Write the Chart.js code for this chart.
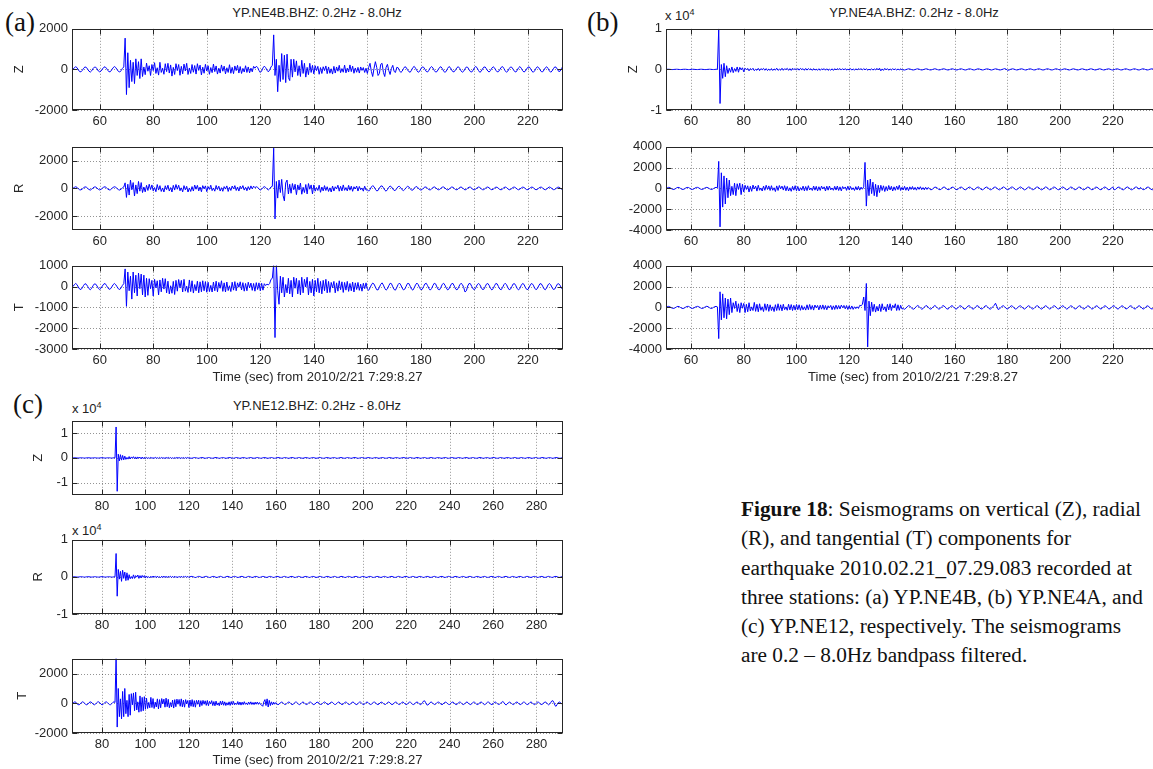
<!DOCTYPE html>
<html>
<head>
<meta charset="utf-8">
<script src="https://cdn.jsdelivr.net/npm/chart.js@4.4.0/dist/chart.umd.min.js"></script>
<style>
html, body { margin: 0; padding: 0; overflow: hidden; background: #fff; }
body { position: relative; width: 1153px; height: 769px; font-family: 'Liberation Sans', Arial, sans-serif; color: #222; }
canvas { position: absolute; }
.txt { position: absolute; white-space: nowrap; }
.letter { font-family: 'Liberation Serif', 'Times New Roman', serif; font-size: 27px; line-height: 27px; color: #111; }
.station { font-size: 13px; line-height: 13px; transform: translateX(-50%); }
.power { font-size: 13px; line-height: 13px; }
.power sup { font-size: 9px; vertical-align: 5px; line-height: 0; }
.caption { font-family: 'Liberation Serif', 'Times New Roman', serif; font-size: 21.3px; line-height: 29.3px; color: #111; left: 741px; top: 495px; }
</style>
</head>
<body>

<div class="txt letter" style="left:5px; top:9px;">(a)</div>
<div class="txt letter" style="left:587px; top:9px;">(b)</div>
<div class="txt letter" style="left:13px; top:391px;">(c)</div>

<div class="txt station" style="left:317px; top:6px;">YP.NE4B.BHZ: 0.2Hz - 8.0Hz</div>
<div class="txt station" style="left:914px; top:6px;">YP.NE4A.BHZ: 0.2Hz - 8.0Hz</div>
<div class="txt station" style="left:317px; top:399px;">YP.NE12.BHZ: 0.2Hz - 8.0Hz</div>

<div class="txt power" style="left:665px; top:9px;">x 10<sup>4</sup></div>
<div class="txt power" style="left:72px; top:402px;">x 10<sup>4</sup></div>
<div class="txt power" style="left:72px; top:524px;">x 10<sup>4</sup></div>

<div class="txt caption"><span id="captionFirst"><b>Figure 18</b>: Seismograms on vertical (Z), radial</span><br>(R), and tangential (T) components for<br>earthquake 2010.02.21_07.29.083 recorded at<br>three stations: (a) YP.NE4B, (b) YP.NE4A, and<br>(c) YP.NE12, respectively. The seismograms<br>are 0.2 &ndash; 8.0Hz bandpass filtered.</div>

<script>
const TRACE_COLOR = '#0000ff';
const AXIS_COLOR = '#262626';
const GRID_COLOR = 'rgba(0,0,0,0.42)';
const TIME_LABEL = 'Time (sec) from 2010/2/21 7:29:8.27';

Chart.defaults.font.family = "'Liberation Sans', Arial, sans-serif";
Chart.defaults.font.size = 13;
Chart.defaults.color = AXIS_COLOR;

// samples every 0.5 s, first sample time per station
const SAMPLE_STEP = 0.5;
const START_NE4B = 50;
const START_NE4A = 50.5;
const START_NE12 = 66.5;

const timeTicksAB = [60, 80, 100, 120, 140, 160, 180, 200, 220];
const timeTicksC = [80, 100, 120, 140, 160, 180, 200, 220, 240, 260, 280];

const ticksNe4bZ = [-2000, 0, 2000];
const ticksNe4bR = [-2000, 0, 2000];
const ticksNe4bT = [-3000, -2000, -1000, 0, 1000];
const ticksE4 = [-10000, 0, 10000];
const ticksNe4aRT = [-4000, -2000, 0, 2000, 4000];
const ticksNe12T = [-2000, 0, 2000];

// YP.NE4B
const ne4bZ = [
    0,80,130,90,-20,-110,-120,-50,60,120,100,10,-90,-130,-70,40,110,110,30,-80,
    -120,-80,20,100,130,60,-40,-120,-110,-20,80,140,90,-10,-100,-130,-60,50,120,
    1540,-1240,820,-900,450,-600,350,-700,520,-300,380,-450,520,
    -350,120,-260,310,-90,180,-300,240,-60,330,-200,80,-280,350,-150,60,-240,280,-110,300,
    -180,220,-330,100,-250,280,-60,240,-290,150,-220,260,-80,300,-250,70,-200,240,-140,190,
    -230,280,-50,210,-270,110,-190,250,-80,180,-240,90,-160,260,-110,170,-230,60,-180,220,
    -90,160,-220,80,-150,230,-190,100,-210,170,-60,200,-180,140,-200,50,-130,180,-150,120,
    -170,60,-120,150,
    60,150,100,-50,-150,-80,70,160,90,-40,-120,-30,120,200,
    1700,-300,500,-1100,200,-600,780,-500,700,-650,750,-400,-550,500,
    -380,500,-120,420,-300,180,-350,450,-200,300,-380,100,-260,300,-150,200,
    -220,180,-60,150,-240,90,-200,130,-60,170,-210,120,-190,30,-230,150,-180,120,-90,200,
    -160,40,-140,210,-170,60,-130,220,-110,160,-190,70,-140,100,-180,120,-50,90,-150,60,
    -200,100,300,-100,-350,50,380,100,-300,-200,250,300,-150,-350,100,250,-50,-250,50,200,-100,-150,100,80,
    -60,-150,-90,40,130,100,-20,-110,-140,-40,90,150,60,-60,-140,-100,30,120,110,10,
    -100,-130,-40,80,140,70,-50,-130,-110,0,100,130,40,-80,-150,-80,50,140,90,-30,
    -120,-110,-10,90,130,50,-70,-140,-90,30,120,100,-10,-110,-130,-40,80,150,70,-50,
    -140,-100,20,110,120,30,-80,-130,-60,60,130,80,-40,-120,-110,-10,100,140,50,-70,
    -140,-80,40,120,100,0,-100,-130,-40,80,140,60,-60,-130,-90,20,110,120,30,-90,
    -140,-70,50,130,90,-20,-110,-120,-30,80,130,50,-70,-140,-80,30,120,110,10,-100,
    -90,40,130,80
];
const ne4bR = [
    0,70,120,80,-20,-100,-110,-40,50,110,90,0,-80,-120,-60,40,100,100,20,-70,
    -110,-70,20,90,120,50,-40,-110,-100,-10,70,120,80,-10,-90,-120,-50,40,100,
    400,-650,300,-480,600,-100,420,-550,250,-380,500,-200,420,
    -300,100,-250,220,-150,300,-80,250,-180,60,-240,280,-120,200,-220,30,-260,190,-90,230,
    -190,60,-260,220,-120,280,-60,230,-170,40,-250,200,-100,150,-260,30,-220,130,-190,240,
    -60,220,-180,100,-240,200,-30,180,-230,130,-70,230,-160,30,-200,210,-80,160,-190,50,
    -210,130,-50,180,-220,80,-150,170,-30,200,-150,100,-190,160,-20,200,-120,80,-170,130,
    -100,180,-40,160,
    50,120,80,-40,-120,-60,60,130,70,-30,-110,-20,100,150,
    2900,-2200,500,-700,600,-300,650,-500,-900,400,600,-400,300,-350,
    350,-100,300,-450,250,-120,380,-420,80,-300,280,-400,350,-60,250,-400,
    250,-200,60,-150,230,-280,100,-180,200,-150,120,-220,40,-260,170,-190,120,-40,230,-200,
    150,-180,250,-140,60,-180,220,-130,160,-210,120,-40,170,-190,140,-100,30,-200,160,-120,
    -100,-200,-80,100,200,120,-60,-180,-150,20,160,180,50,-120,-200,-90,80,170,110,-40,
    -150,-140,0,130,150,40,-100,-160,-70,60,150,110,-20,-130,-120,10,110,130,30,-80,
    -120,-80,30,100,90,0,-90,-110,-30,60,110,60,-40,-100,-80,10,90,100,30,-70,
    -110,-60,30,100,80,-10,-90,-100,-20,70,100,50,-50,-110,-70,20,90,90,10,-80,
    -100,-50,40,100,70,-20,-90,-90,-10,70,100,40,-50,-100,-60,20,90,80,0,-80,
    -100,-40,50,100,60,-30,-100,-80,0,80,90,30,-60,-100,-50,30,90,70,-10,-90,
    -90,-20,60,100,50,-40,-100,-70,10,80,90,20,-60,-100,-50,40,100,60,-20,-90,
    -80,0,70,90,30,-50,-90,-40
];
const ne4bT = [
    0,90,150,100,-20,-120,-140,-60,60,140,110,10,-100,-150,-80,40,130,120,30,-90,
    -140,-80,30,120,150,60,-50,-130,-110,-20,90,150,90,-10,-110,-140,-60,60,140,
    850,-950,700,-200,500,-600,700,-300,550,-450,650,-100,600,-400,550,-500,400,
    -420,380,-100,300,-450,350,-60,280,-400,320,-250,400,-120,380,-300,260,-350,40,-320,250,
    -380,300,-220,340,-60,300,-260,350,-220,20,-280,320,-240,280,-310,100,-200,260,-300,230,
    -250,280,-200,240,
    -270,210,-240,60,-260,220,-200,260,-250,200,-80,280,-230,180,-260,220,-190,40,-240,210,
    -170,240,-200,180,-30,230,-160,190,-220,150,-200,210,-60,170,-180,150,-220,190,-140,180,
    -200,160,-170,140,
    50,120,80,150,350,
    400,1100,-2450,1100,-200,-850,500,-300,
    450,-500,100,-300,400,-350,300,-500,450,-80,400,-350,300,-400,450,-300,350,-20,450,-400,
    250,-300,350,-450,300,-250,400,-300,250,-350,300,-200,350,
    -300,250,-280,200,-60,250,-300,180,-220,280,-150,230,-280,200,-170,250,-230,150,-200,220,
    -260,180,-140,200,-180,120,-220,160,-100,180,
    -120,-180,-60,80,170,120,-20,-150,-160,-30,110,180,70,-80,-170,-110,40,160,140,-10,
    -140,-170,-40,100,170,80,-70,-160,-120,20,150,150,20,-120,-170,-60,80,170,100,-50,
    -150,-130,0,130,160,50,-90,-170,-90,50,160,130,-20,-140,-150,-30,110,160,70,-70,
    -160,-110,30,140,150,20,-120,-160,-60,80,160,100,-40,-260,-200,30,150,140,10,-110,
    -150,-60,80,150,100,-30,-140,-130,-10,120,150,60,-80,-160,-100,40,150,130,0,-120,
    -150,-50,90,160,90,-50,-150,-120,10,130,140,40,-100,-160,-80,60,150,110,-30,-130,
    -140,-30,110,150,70,-70,-150,-100,30,140,130,20,-110,-150,-60,80,150,90,-40,-140,
    -120,0,120,140,60,-60,-140,-90
];

// YP.NE4A
const ne4aZ = [
    0,30,40,10,-30,-40,-10,20,40,20,-20,-40,-20,20,40,30,-10,-40,-30,10,
    40,30,-10,-30,-40,0,30,40,10,-30,-40,-20,20,40,20,-20,-40,-10,30,40,
    10000,-8400,1200,-2200,1500,-1800,
    900,-1000,300,-700,600,-800,200,-500,600,-700,500,-100,400,-600,
    300,-80,250,-350,200,-100,280,-320,40,-220,260,-300,180,-60,250,-220,200,-280,80,-240,
    200,-260,120,-180,300,-240,60,-200,280,-220,160,-40,260,-230,190,-250,280,-70,200,-170,
    230,-190,250,-30,170,-220,240,-180,200,-60,150,-230,200,-160,40,-210,170,-230,140,-60,
    180,-200,160,-230,40,-200,150,-240,180,-140,190,-40,210,-160,180,-130,200,-170,60,-150,
    200,-170,120,-190,150,-130,180,-20,160,-140,200,-110,150,-170,30,-130,160,-180,120,-140,
    260,-150,300,-350,120,-240,260,-100,180,-200,120,-150,160,-80,120,-140,90,-110,130,-80,
    -100,-150,-60,60,140,100,-20,-120,-130,-30,90,140,50,-70,-150,-80,40,130,110,0,
    -110,-140,-40,80,150,70,-50,-140,-100,20,120,130,30,-90,-150,-60,60,140,90,-30,
    -130,-120,-10,100,140,50,-70,-150,-90,40,130,120,10,-110,-140,-40,80,150,70,-50,
    -140,-100,20,110,130,30,-90,-150,-60,60,140,90,-30,-130,-120,-10,100,200,50,-180,
    -200,-40,80,150,70,-50,-140,-100,20,120,130,30,-90,-150,-60,60,140,90,-30,-130,
    -120,-10,100,140,50,-70,-150,-90,40,130,120,10,-110,-140,-40,80,150,70,-50,-140,
    -100,20,110,130,30,-90,-150,-60,60,140,90,-30,-130,-120,-10,100,140,50,-70,-150,
    -90,40,130,120,10,-110,-140,-40,80,150,70,-50,-140,-100,20,110,130,30,-90,-150,
    -60,60,140,90,-30,-130,-120,-10,100,140,50,-70,-150,-90,40,130,120,10,-110,-140,
    -40,80,150,70,-50,-140,-100,20,110,130,30,-90
];
const ne4aR = [
    0,60,100,70,-20,-90,-100,-40,50,100,80,0,-80,-100,-50,40,90,90,10,-70,
    -100,-60,30,90,100,40,-50,-100,-80,0,80,100,50,-30,-90,-90,-20,60,100,60,
    2600,-3700,1500,-1800,1200,-1500,1000,-900,
    800,-700,200,-600,500,-700,450,-100,500,-600,400,-350,
    300,-100,250,-350,200,-280,320,-60,220,-260,300,-180,40,-250,220,-180,300,-100,240,-200,
    260,-180,60,-300,240,-200,280,-40,220,-160,260,-230,190,-250,60,-280,200,-170,260,-230,
    190,-250,70,-170,220,-240,180,-210,260,-150,40,-200,230,-170,200,-240,160,-190,220,-60,
    150,-250,210,-170,230,-140,40,-180,200,-160,230,-200,150,-240,180,-30,140,-190,210,-160,
    180,-130,60,-200,170,-150,200,-170,120,-80,150,
    2500,-1700,800,-700,900,-500,600,-700,400,-800,300,-400,
    300,-200,250,-300,180,-220,280,-150,200,-250,150,-180,220,-120,300,-200,100,-150,200,-180,
    120,-220,150,-100,180,-130,100,-170,140,-90,160,-120,80,-140,110,-100,90,
    -60,-140,-90,30,120,110,10,-100,-130,-40,80,140,60,-50,-130,-90,20,120,110,0,
    -110,-120,-20,90,130,50,-70,-140,-80,40,130,100,-20,-120,-120,-10,100,130,40,-80,
    -140,-70,50,130,90,-30,-130,-110,0,110,120,30,-90,-140,-60,60,140,80,-40,-130,
    -100,10,120,120,20,-100,-130,-40,80,140,60,-60,-140,-90,30,130,100,-20,-120,-110,
    0,110,130,40,-80,-140,-70,50,140,90,-30,-130,-100,10,120,110,10,-100,-130,-50,
    70,140,70,-50,-140,-90,20,130,100,-10,-120,-110,0,110,120,30,-90,-140,-60,60,
    130,80,-40,-130,-100,10,120,110,10,-100,-130,-40,80,140,60,-60,-140,-80,40,130,
    -130,-100,20,120,110,10,-100,-140,-50,70,140,80,-40,-130,-110,0,110,130,40,-80,
    90,-30,-120,-110,0,110,120,30,-90,-130,-60,60
];
const ne4aT = [
    20,80,100,50,-30,-90,-90,-30,50,100,70,-10,-80,-110,-50,30,90,100,30,-60,
    -100,-70,10,80,100,50,-30,-100,-90,-10,70,110,60,-30,-100,-80,0,70,100,50,
    -3000,1500,-1200,1300,-1000,900,-1100,800,-700,900,
    -500,450,-100,600,-400,350,-500,450,-80,380,-500,300,-420,450,-350,50,-300,480,-380,300,
    -420,350,-280,60,-400,350,-280,320,-380,250,-300,60,-400,260,-300,350,-280,250,-330,300,
    -220,50,-280,300,-240,270,-300,200,-260,280,
    -220,250,-280,180,-230,60,-260,250,-220,280,-200,180,-260,230,-40,190,-240,210,-170,240,
    -200,180,-230,160,-40,190,-220,150,-200,210,-170,180,-150,220,-30,190,-140,180,-200,160,
    -170,140,-190,60,-120,60,-100,200,150,300,
    1000,-300,2300,-3800,600,-800,
    500,-400,300,-450,100,-350,300,-400,350,-250,60,-400,300,-250,350,-300,200,-50,350,-300,
    250,-280,200,-150,
    -120,-180,-80,60,170,130,-10,-150,-170,-50,100,180,90,-60,-170,-120,30,160,150,10,
    -130,-170,-50,90,180,80,-70,-170,-110,40,160,140,0,-140,-160,-40,100,170,70,-80,
    -170,-100,50,160,130,-10,-150,-150,-20,120,170,60,-90,-170,-90,60,170,120,-30,-150,
    -140,-10,130,160,50,-100,-170,-80,70,200,400,100,-200,-150,-20,120,160,50,-90,-160,
    -80,60,160,110,-40,-150,-130,0,130,150,40,-100,-160,-70,70,160,100,-40,-150,-120,
    10,130,150,30,-110,-160,-60,80,160,90,-50,-150,-110,20,140,140,20,-120,-150,-50,
    90,160,80,-60,-160,-100,40,150,120,-10,-140,-140,-20,120,160,60,-80,-160,-90,50,
    150,110,-30,-150,-130,0,130,150,40,-100,-160,-70,70,160,100,-40,-150,-120,10,130,
    150,30,-110,-160,-60,80,160,90,-50,-150,-110,20,140,140,20,-120,-150,-50,90,160,
    80,-60,-160,-100,40,150,120,-10,-140,-140,-20,120
];

// YP.NE12
const ne12Z = [
    0,40,60,20,-40,-60,-20,30,60,30,-30,-60,-30,20,60,40,-20,-60,-40,10,
    60,40,-10,-50,-60,0,40,60,20,-40,-60,-20,30,60,30,-30,-60,-20,40,60,
    12500,-13500,1500,-1200,1300,-900,1000,-800,
    700,-600,200,-500,550,-450,400,-100,500,-350,400,-450,350,-60,300,-400,350,-300,250,-350,
    200,-150,60,-180,220,-150,40,-170,230,-140,80,-190,200,-160,180,-120,30,-210,170,-130,
    200,-160,140,-190,60,-180,120,-160,200,-130,170,-190,50,-110,150,-180,140,-130,170,-100,
    -60,-150,-100,30,130,120,20,-100,-140,-50,80,150,70,-60,-150,-90,40,140,110,-10,
    -120,-130,-20,100,150,50,-80,-150,-70,60,150,90,-40,-140,-110,20,130,130,0,-120,
    -140,-40,90,150,60,-70,-150,-80,50,140,100,-30,-130,-120,10,120,140,30,-100,-150,
    -60,70,150,80,-50,-140,-100,30,130,120,0,-110,-140,-40,90,150,60,-70,-150,-80,
    50,140,100,-30,-130,-120,10,120,140,30,-100,-150,-60,70,150,80,-50,-140,-100,30,
    130,120,0,-110,-140,-40,90,150,60,-70,-150,-80,50,140,100,-30,-130,-120,10,120,
    140,30,-100,-150,-60,70,150,80,-50,-140,-100,30,130,120,0,-110,-140,-40,90,150,
    60,-70,-150,-80,50,140,100,-30,-130,-120,10,120,140,30,-100,-150,-60,70,150,80,
    -50,-140,-100,30,130,120,0,-110,-140,-40,90,150,60,-70,-150,-80,50,140,100,-30,
    -130,-120,10,120,140,30,-100,-150,-60,70,150,80,-50,-140,-100,30,130,120,0,-110,
    -140,-40,90,150,60,-70,-150,-80,50,140,100,-30,-130,-120,10,120,140,30,-100,-150,
    -60,70,150,80,-50,-140,-100,30,130,120,0,-110,-140,-40,90,150,60,-70,-150,-80,
    50,140,100,-30,-130,-120,10,120,140,30,-100,-150,-60,70,150,80,-50,-140,-100,30,
    130,120,0,-110,-140,-40,90,150,60,-70,-150,-80,50,140,100,-30,-130,-120,10,120,
    140,30,-100,-150,-60,70,150,80,-50,-140,-100,30,130,120,0,-110,-140,-40,90,150,
    60,-70,-150,-80,50,140,100,-30,-130,-120,10,120,140,30,-100,-150,-60,70,150,80,
    -50,-140,-100,30,130,120,0,-110,-140,-40,90,150,60,-70,-150,-80,50,140,100,-30,
    -130,-120,10,120
];
const ne12R = [
    20,50,40,-10,-50,-50,0,40,60,20,-30,-60,-20,30,50,40,-10,-50,-40,10,
    50,50,0,-40,-60,-10,40,60,20,-30,-50,-30,20,50,40,-10,-50,-40,10,50,
    6300,-5200,2000,-600,1500,-1200,1800,-400,1300,-1000,1100,-900,
    600,-500,100,-450,550,-400,350,-60,500,-400,350,-300,400,-100,350,-300,
    250,-200,50,-220,180,-200,240,-60,150,-210,230,-160,40,-190,200,-170,220,-150,180,-210,
    150,-60,180,-190,160,-170,200,-140,40,-180,160,-150,190,-140,150,-30,170,-130,160,-170,
    30,120,140,40,-90,-150,-80,60,140,110,-20,-130,-130,-10,110,150,50,-80,-150,-90,
    40,130,120,0,-120,-140,-40,90,150,70,-60,-150,-100,20,130,130,20,-110,-150,-50,
    80,150,80,-50,-140,-110,10,120,140,40,-90,-150,-70,60,140,100,-30,-130,-120,0,
    110,130,40,-80,-140,-70,50,130,100,-20,-120,-120,0,110,130,50,-80,-140,-80,40,
    120,110,-10,-110,-130,-30,80,140,70,-50,-130,-100,20,120,120,20,-100,-140,-50,70,
    140,80,-40,-130,-110,0,110,130,40,-80,-140,-70,50,130,100,-20,-120,-120,-10,100,
    130,50,-70,-140,-80,40,130,110,0,-110,-130,-40,80,140,70,-50,-130,-100,20,120,
    120,20,-100,-140,-50,70,140,80,-30,-120,-110,10,110,130,40,-80,-140,-70,50,130,
    100,-20,-120,-120,0,110,130,50,-80,-140,-80,40,120,110,-10,-110,-130,-30,80,140,
    70,-50,-130,-100,20,120,120,20,-100,-140,-50,70,140,80,-40,-130,-110,0,110,130,
    40,-80,-140,-70,50,130,100,-20,-120,-120,-10,100,130,50,-70,-140,-80,40,130,110,
    0,-110,-130,-40,80,140,70,-50,-130,-100,20,120,120,20,-100,-140,-50,70,140,80,
    -30,-120,-110,10,110,130,40,-80,-140,-70,50,130,100,-20,-120,-120,0,110,130,50,
    -80,-140,-80,40,120,110,-10,-110,-130,-30,80,140,70,-50,-130,-100,20,120,120,20,
    -100,-140,-50,70,140,80,-40,-130,-110,0,110,130,40,-80,-140,-70,50,130,100,-20,
    -120,-120,-10,100,130,50,-70,-140,-80,40,130,110,0,-110,-130,-40,80,140,70,-50,
    -130,-100,20,120,120,20,-100,-140,-50,70,140,80,-30,-120,-110,10,110,130,40,-80,
    -140,-70,50,130
];
const ne12T = [
    0,60,100,70,-20,-90,-100,-40,50,100,80,0,-80,-100,-50,40,90,90,10,-70,
    -100,-60,30,90,100,40,-50,-100,-80,0,80,100,50,-30,-90,-90,-20,60,100,60,
    3200,-1600,1000,-900,300,-1050,800,-900,
    1000,-700,200,-900,600,-800,650,-100,700,-500,750,-450,100,-600,500,-550,400,-500,450,-400,
    350,-350,60,-300,400,-280,320,-350,80,-250,300,-380,250,-300,320,-40,280,-260,350,-230,
    270,-300,50,-250,220,-320,250,-230,280,-60,260,-200,300,-240,220,-260,250,-40,190,-280,
    220,-200,250,-230,180,-260,200,-60,210,-230,
    180,-150,200,-60,170,-140,190,-160,130,-50,180,-150,120,-170,150,-120,30,-160,140,-110,
    160,-130,100,-150,40,-120,100,-140,120,-90,130,-110,20,-80,120,-100,90,-120,80,-90,
    110,-70,30,-100,90,-70,100,-80,60,-90,80,-60,90,-70,50,-80,-120,-200,100,250,
    -150,300,-250,200,-150,100,-100,80,-60,50,
    -40,-90,-60,20,80,70,0,-70,-80,-20,50,90,50,-30,-90,-60,10,80,80,10,
    -60,-90,-30,50,90,50,-30,-80,-60,10,70,80,20,-50,-90,-50,30,80,60,-10,
    -70,-80,-10,60,90,40,-40,-90,-50,20,80,70,0,-70,-80,-20,60,90,40,-40,
    -90,-50,20,80,70,0,-70,-80,-20,50,90,50,-30,-90,-60,10,80,80,10,-60,
    -90,-30,50,90,50,-30,-80,-60,10,70,80,20,-50,-90,-50,30,80,60,-10,-70,
    -80,-10,60,90,40,-40,-90,-50,20,80,70,0,-70,-80,-20,60,90,40,-40,-90,
    -50,20,80,70,0,-70,-80,-20,50,90,50,-30,-90,-60,40,150,170,40,-100,-120,
    -40,50,90,50,-30,-80,-60,10,70,80,20,-50,-90,-50,30,80,60,-10,-70,-80,
    -10,60,90,40,-40,-90,-50,20,80,70,0,-70,-80,-20,60,90,40,-40,-90,-50,
    20,80,70,0,-70,-80,-20,50,90,50,-30,-90,-60,10,80,80,10,-60,-90,-30,
    50,90,50,-30,-80,-60,10,70,120,60,-60,-110,-50,30,80,60,-10,-70,-80,-10,
    60,90,40,-40,-90,-50,20,80,70,0,-70,-80,-20,60,90,40,-40,-90,-50,20,
    80,70,0,-70,-80,-20,50,90,60,-30,-100,-60,40,150,180,60,-150,-200,-80,40,
    90,50,-20,-70
];

// dotted grid under the trace, box and inward tick marks on top
var matlabAxes = {
    id: 'matlabAxes',
    beforeDatasetsDraw: function (chart) {
        var ctx = chart.ctx, a = chart.chartArea;
        var xs = chart.scales.x, ys = chart.scales.y;
        ctx.save();
        ctx.strokeStyle = GRID_COLOR;
        ctx.lineWidth = 1;
        ctx.setLineDash([1, 2]);
        xs.ticks.forEach(function (t) {
            var px = Math.round(xs.getPixelForValue(t.value)) + 0.5;
            ctx.beginPath();
            ctx.moveTo(px, a.top);
            ctx.lineTo(px, a.bottom);
            ctx.stroke();
        });
        ys.ticks.forEach(function (t) {
            var py = Math.round(ys.getPixelForValue(t.value)) + 0.5;
            ctx.beginPath();
            ctx.moveTo(a.left, py);
            ctx.lineTo(a.right, py);
            ctx.stroke();
        });
        ctx.restore();
    },
    afterDatasetsDraw: function (chart) {
        var ctx = chart.ctx, a = chart.chartArea;
        var xs = chart.scales.x, ys = chart.scales.y;
        var l = Math.round(a.left) + 0.5, r = Math.round(a.right) - 0.5;
        var t = Math.round(a.top) + 0.5, b = Math.round(a.bottom) - 0.5;
        ctx.save();
        ctx.strokeStyle = AXIS_COLOR;
        ctx.lineWidth = 1;
        ctx.strokeRect(l, t, r - l, b - t);
        ctx.beginPath();
        xs.ticks.forEach(function (tk) {
            var px = Math.round(xs.getPixelForValue(tk.value)) + 0.5;
            ctx.moveTo(px, b); ctx.lineTo(px, b - 5);
            ctx.moveTo(px, t); ctx.lineTo(px, t + 5);
        });
        ys.ticks.forEach(function (tk) {
            var py = Math.round(ys.getPixelForValue(tk.value)) + 0.5;
            ctx.moveTo(l, py); ctx.lineTo(l + 5, py);
            ctx.moveTo(r, py); ctx.lineTo(r - 5, py);
        });
        ctx.stroke();
        ctx.restore();
    }
};

var panels = [
    { values: ne4bZ, start: START_NE4B, xMin: 49.65, xMax: 233.1, xTicks: timeTicksAB,
      yMin: -2000, yMax: 2000, yTicks: ticksNe4bZ, yLabel: 'Z', e4: false,
      box: [72, 27, 563, 110], yAxisW: 60, xAxisH: 24, xTitle: '' },
    { values: ne4bR, start: START_NE4B, xMin: 49.65, xMax: 233.1, xTicks: timeTicksAB,
      yMin: -3000, yMax: 3000, yTicks: ticksNe4bR, yLabel: 'R', e4: false,
      box: [72, 145, 563, 230], yAxisW: 60, xAxisH: 24, xTitle: '' },
    { values: ne4bT, start: START_NE4B, xMin: 49.65, xMax: 233.1, xTicks: timeTicksAB,
      yMin: -3000, yMax: 1000, yTicks: ticksNe4bT, yLabel: 'T', e4: false,
      box: [72, 264, 563, 349], yAxisW: 60, xAxisH: 36, xTitle: TIME_LABEL },
    { values: ne4aZ, start: START_NE4A, xMin: 50.5, xMax: 237.9, xTicks: timeTicksAB,
      yMin: -10000, yMax: 10000, yTicks: ticksE4, yLabel: 'Z', e4: true,
      box: [666, 27, 1160, 110], yAxisW: 40, xAxisH: 24, xTitle: '' },
    { values: ne4aR, start: START_NE4A, xMin: 50.5, xMax: 237.9, xTicks: timeTicksAB,
      yMin: -4000, yMax: 4000, yTicks: ticksNe4aRT, yLabel: '', e4: false,
      box: [666, 145, 1160, 230], yAxisW: 50, xAxisH: 24, xTitle: '' },
    { values: ne4aT, start: START_NE4A, xMin: 50.5, xMax: 237.9, xTicks: timeTicksAB,
      yMin: -4000, yMax: 4000, yTicks: ticksNe4aRT, yLabel: '', e4: false,
      box: [666, 264, 1160, 349], yAxisW: 50, xAxisH: 36, xTitle: TIME_LABEL },
    { values: ne12Z, start: START_NE12, xMin: 66.2, xMax: 292.2, xTicks: timeTicksC,
      yMin: -15000, yMax: 15000, yTicks: ticksE4, yLabel: 'Z', e4: true,
      box: [72, 419, 563, 495], yAxisW: 41, xAxisH: 24, xTitle: '' },
    { values: ne12R, start: START_NE12, xMin: 66.2, xMax: 292.2, xTicks: timeTicksC,
      yMin: -10000, yMax: 10000, yTicks: ticksE4, yLabel: 'R', e4: true,
      box: [72, 538, 563, 614], yAxisW: 41, xAxisH: 24, xTitle: '' },
    { values: ne12T, start: START_NE12, xMin: 66.2, xMax: 292.2, xTicks: timeTicksC,
      yMin: -2000, yMax: 3000, yTicks: ticksNe12T, yLabel: 'T', e4: false,
      box: [72, 657, 563, 733], yAxisW: 57, xAxisH: 35, xTitle: TIME_LABEL }
];

var PAD_TOP = 10;
var PAD_RIGHT = 10;

panels.forEach(function (p) {
    var left = p.box[0], top = p.box[1], right = p.box[2], bottom = p.box[3];
    var canvas = document.createElement('canvas');
    canvas.width = p.yAxisW + (right - left) + PAD_RIGHT;
    canvas.height = PAD_TOP + (bottom - top) + p.xAxisH;
    canvas.style.left = (left - p.yAxisW) + 'px';
    canvas.style.top = (top - PAD_TOP) + 'px';
    document.body.appendChild(canvas);

    var points = p.values.map(function (v, i) {
        return { x: p.start + i * SAMPLE_STEP, y: v };
    });

    new Chart(canvas, {
        type: 'line',
        data: {
            datasets: [{
                data: points,
                borderColor: TRACE_COLOR,
                borderWidth: 1,
                pointRadius: 0,
                tension: 0,
                fill: false
            }]
        },
        options: {
            responsive: false,
            animation: false,
            devicePixelRatio: 1,
            parsing: false,
            normalized: true,
            layout: { padding: { top: PAD_TOP, right: PAD_RIGHT, left: 0, bottom: 0 } },
            plugins: {
                legend: { display: false },
                tooltip: { enabled: false },
                title: { display: false }
            },
            scales: {
                x: {
                    type: 'linear',
                    min: p.xMin,
                    max: p.xMax,
                    grid: { display: false, drawTicks: false },
                    border: { display: false },
                    ticks: {
                        padding: 4,
                        maxRotation: 0,
                        autoSkip: false,
                        callback: function (v) { return String(v); }
                    },
                    afterBuildTicks: function (s) {
                        s.ticks = p.xTicks.map(function (v) { return { value: v }; });
                    },
                    afterFit: function (s) { s.height = p.xAxisH; },
                    title: { display: p.xTitle !== '', text: p.xTitle, padding: 0 }
                },
                y: {
                    type: 'linear',
                    min: p.yMin,
                    max: p.yMax,
                    grid: { display: false, drawTicks: false },
                    border: { display: false },
                    ticks: {
                        padding: 4,
                        autoSkip: false,
                        callback: function (v) { return p.e4 ? String(v / 10000) : String(v); }
                    },
                    afterBuildTicks: function (s) {
                        s.ticks = p.yTicks.map(function (v) { return { value: v }; });
                    },
                    afterFit: function (s) { s.width = p.yAxisW; },
                    title: { display: p.yLabel !== '', text: p.yLabel, padding: 0 }
                }
            }
        },
        plugins: [matlabAxes]
    });
});

// the first caption line runs slightly wider than the rest
var firstLine = document.getElementById('captionFirst');
var firstExtra = 394 - firstLine.getBoundingClientRect().width;
if (firstExtra > 0) {
    firstLine.style.wordSpacing = (firstExtra / 6) + 'px';
}
</script>
</body>
</html>
